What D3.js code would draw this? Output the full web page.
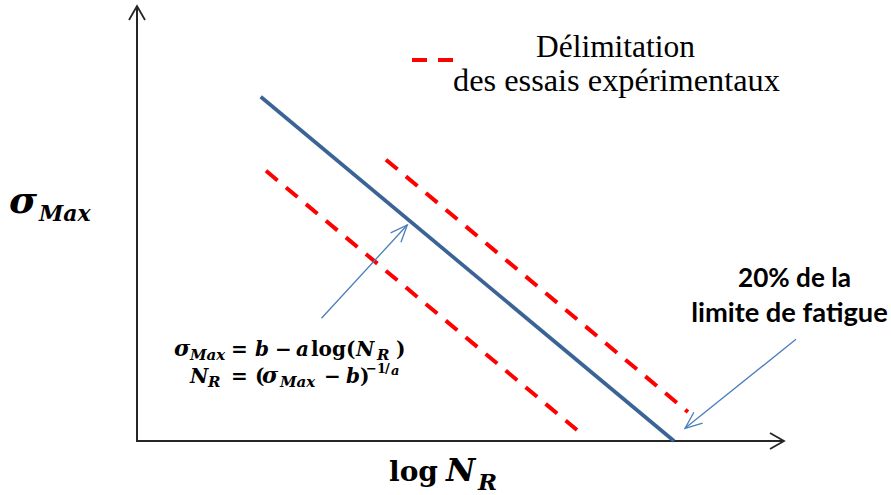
<!DOCTYPE html>
<html><head><meta charset="utf-8">
<script src="https://cdn.jsdelivr.net/npm/d3@7"></script>
<style>html,body{margin:0;padding:0;background:#fff;}svg{display:block;}</style>
</head><body>
<svg id="chart" width="891" height="495"></svg>
<script>
// ---- data (schematic units) ----
const snCurve = [[1.915, 7.95], [8.313, 0.0]];          // σ_Max = b − a log(N_R)
const lowerBound = [[1.997, 6.24], [6.811, 0.254]];      // délimitation inférieure
const upperBound = [[3.854, 6.497], [8.529, 0.670]];     // délimitation supérieure
const formulaArrow = [[2.856, 2.834], [4.184, 4.988]];
const fatigueArrow = [[10.201, 2.349], [8.483, 0.293]];
const legendLabels = ["Délimitation", "des essais expérimentaux"];
const fatigueLabels = ["20% de la", "limite de fatigue"];

const svg = d3.select("#chart");
const x = d3.scaleLinear().domain([0, 10]).range([137, 783]);
const y = d3.scaleLinear().domain([0, 10]).range([441, 8]);
const line = d3.line().x(d => x(d[0])).y(d => y(d[1]));

// axes
const axisColor = "#262626";
function openHead(g, tip, from, len, half, color, width) {
  const dx = tip[0] - from[0], dy = tip[1] - from[1];
  const L = Math.hypot(dx, dy), ux = dx / L, uy = dy / L;
  const bx = tip[0] - ux * len, by = tip[1] - uy * len;
  const px = -uy, py = ux;
  g.append("path")
    .attr("d", `M${bx + px * half},${by + py * half}L${tip[0]},${tip[1]}L${bx - px * half},${by - py * half}`)
    .attr("fill", "none").attr("stroke", color).attr("stroke-width", width)
    .attr("stroke-linejoin", "miter");
}
const axes = svg.append("g");
axes.append("line").attr("x1", x(0)).attr("y1", y(0)).attr("x2", x(0)).attr("y2", y(10) - 1)
  .attr("stroke", axisColor).attr("stroke-width", 2);
axes.append("line").attr("x1", x(0) - 1).attr("y1", y(0)).attr("x2", x(10)).attr("y2", y(0))
  .attr("stroke", axisColor).attr("stroke-width", 2);
openHead(axes, [x(0), y(10) - 2], [x(0), y(0)], 14, 8, axisColor, 1.8);
openHead(axes, [x(10) + 1, y(0)], [x(0), y(0)], 14, 8, axisColor, 1.8);

// lines
svg.append("path").datum(lowerBound).attr("d", line)
  .attr("fill", "none").attr("stroke", "#ff0000").attr("stroke-width", 4)
  .attr("stroke-dasharray", "15,11");
svg.append("path").datum(upperBound).attr("d", line)
  .attr("fill", "none").attr("stroke", "#ff0000").attr("stroke-width", 4)
  .attr("stroke-dasharray", "15,11");
svg.append("path").datum(snCurve).attr("d", line)
  .attr("fill", "none").attr("stroke", "#3b6496").attr("stroke-width", 3.7);

// annotation arrows
const arrowColor = "#4a7ebb";
[formulaArrow, fatigueArrow].forEach(a => {
  const p0 = [x(a[0][0]), y(a[0][1])], p1 = [x(a[1][0]), y(a[1][1])];
  svg.append("line").attr("x1", p0[0]).attr("y1", p0[1]).attr("x2", p1[0]).attr("y2", p1[1])
    .attr("stroke", arrowColor).attr("stroke-width", 1.3);
  openHead(svg, p1, p0, 17, 7, arrowColor, 1.3);
});

// legend
const lg = svg.append("g");
lg.append("line").attr("x1", 412).attr("y1", 60).attr("x2", 455).attr("y2", 60)
  .attr("stroke", "#ff0000").attr("stroke-width", 4).attr("stroke-dasharray", "15,11");

function fit(t, target) {
  const base = parseFloat(t.attr("font-size"));
  const w = t.node().getBBox().width;
  t.attr("font-size", base * target / w);
}
function anchoredText(str, cx, by, family, weight, size, width) {
  const t = svg.append("text").attr("x", cx).attr("y", by).attr("text-anchor", "middle")
    .attr("font-family", family).attr("font-weight", weight).attr("font-size", size)
    .attr("fill", "#000").text(str);
  fit(t, width);
  return t;
}
const serif = "'Liberation Serif', 'DejaVu Serif', serif";
anchoredText(legendLabels[0], 615.5, 57, serif, "normal", 26, 159);
anchoredText(legendLabels[1], 616.5, 91, serif, "normal", 26, 327);
const sans = "Lato, 'Open Sans', sans-serif";
anchoredText(fatigueLabels[0], 794.5, 287, sans, "bold", 22, 113);
anchoredText(fatigueLabels[1], 789.5, 322, sans, "bold", 22, 197);

// math labels: each piece placed at its own position
const mathFont = "'DejaVu Serif', 'Liberation Serif', serif";
function mathText(parts, size) {
  const t = svg.append("text")
    .attr("font-family", mathFont).attr("font-weight", "bold").attr("font-size", size).attr("fill", "#000");
  parts.forEach(p => {
    const s = t.append("tspan").attr("x", p.x).attr("y", p.y).text(p.t);
    if (p.i) s.attr("font-style", "italic");
    if (p.fs) s.attr("font-size", p.fs);
  });
  return t;
}
// σ_Max (y label)
mathText([{t: "σ", i: true, x: 9, y: 213, fs: 38}, {t: "Max", i: true, x: 39, y: 221, fs: 22}], 34);
// log N_R (x label)
mathText([{t: "log", x: 389, y: 481, fs: 28}, {t: "N", i: true, x: 446, y: 481, fs: 32},
          {t: "R", i: true, x: 478, y: 490, fs: 23}], 30);
// formulas
mathText([
  {t: "σ", i: true, x: 174, y: 356, fs: 22}, {t: "Max", i: true, x: 190, y: 360, fs: 15},
  {t: "=", x: 231, y: 356}, {t: "b", i: true, x: 255, y: 356}, {t: "−", x: 275, y: 356},
  {t: "a", i: true, x: 296, y: 356}, {t: "log(", x: 311, y: 356},
  {t: "N", i: true, x: 356, y: 356}, {t: "R", i: true, x: 377, y: 360, fs: 15}, {t: ")", x: 396, y: 356}
], 20);
mathText([
  {t: "N", i: true, x: 190, y: 383}, {t: "R", i: true, x: 208, y: 387, fs: 15},
  {t: "=", x: 231, y: 383}, {t: "(", x: 255, y: 383},
  {t: "σ", i: true, x: 262, y: 383, fs: 22}, {t: "Max", i: true, x: 280, y: 387, fs: 15},
  {t: "−", x: 324, y: 383}, {t: "b", i: true, x: 346, y: 383}, {t: ")", x: 360, y: 383},
  {t: "−1", x: 366, y: 373, fs: 13}, {t: "/", x: 385, y: 373, fs: 13}, {t: "a", i: true, x: 391, y: 375, fs: 13}
], 20);
</script>
</body></html>
